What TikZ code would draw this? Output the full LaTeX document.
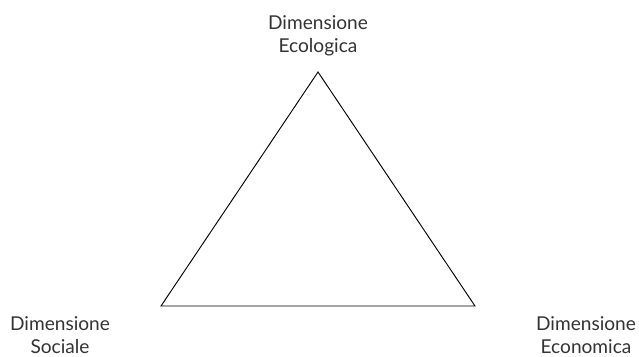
\documentclass[tikz,border=0pt]{standalone}
\usepackage{fontspec}
\setmainfont{Lato}
\usepackage{tikz}
\usetikzlibrary{positioning}

\begin{document}
\begin{tikzpicture}[x=0.03cm, y=-0.03cm,
    dim/.style={align=center, font=\fontsize{16.3}{19.5}\selectfont, text=black!80, inner sep=0pt, anchor=base}
  ]
    \useasboundingbox (0,0) rectangle (639,356);
    \coordinate (eco) at (318,72);
    \coordinate (soc) at (161,306);
    \coordinate (econ) at (475,306);
    \draw[line width=0.8pt, line join=miter] (eco) -- (soc) -- (econ) -- cycle;
    \node[dim] (leco) at (318,52) {Dimensione\\Ecologica};
    \node[dim] (lsoc) at (60,353) {Dimensione\\Sociale};
    \node[dim] (lecon) at (586,353) {Dimensione\\Economica};
  \end{tikzpicture}
\end{document}
